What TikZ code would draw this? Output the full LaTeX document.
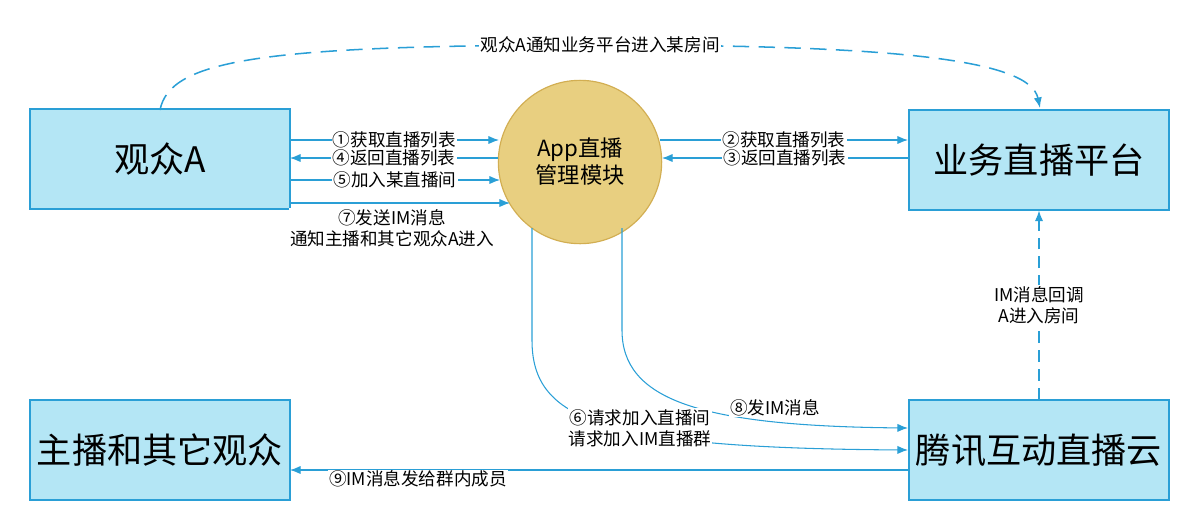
\documentclass[tikz,border=0pt]{standalone}
\usepackage{fontspec}
\setmainfont{Noto Sans CJK SC}
\usetikzlibrary{arrows.meta}
\definecolor{boxfill}{HTML}{B4E6F5}
\definecolor{boxline}{HTML}{2A9FD6}
\definecolor{ballfill}{HTML}{E8CF80}
\definecolor{ballline}{HTML}{D2AE52}
\tikzset{
  box/.style={draw=boxline,fill=boxfill,line width=1pt,minimum width=7.8cm,minimum height=3cm,font=\fontsize{30}{32}\selectfont},
  link/.style={draw=boxline,line width=0.9pt,-{Latex[length=9pt,width=7pt]}},
  lbl/.style={fill=white,inner sep=1pt,font=\fontsize{15}{18}\selectfont,align=center}
}
\begin{document}
\begin{tikzpicture}[x=0.03cm,y=-0.03cm]
\useasboundingbox (0,0) rectangle (1190,520);

\node[box] (viewer) at (160,159) {观众A};
\node[box] (biz) at (1039,160) {业务直播平台};
\node[box] (anchor) at (160,450) {主播和其它观众};
\node[box] (cloud) at (1039,450) {腾讯互动直播云};
\node[circle,draw=ballline,fill=ballfill,line width=1pt,minimum size=4.9cm,align=center,font=\fontsize{19}{23}\selectfont] (app) at (580,162) {App直播\\管理模块};

% viewer <-> app
\draw[link] (290,140) -- (499,140) node[lbl,midway] {①获取直播列表};
\draw[link] (498,158) -- (290,158) node[lbl,midway] {④返回直播列表};
\draw[link] (290,180) -- (500,180) node[lbl,midway] {⑤加入某直播间};
\draw[link] (290,203) -- (510,203);
\node[lbl] at (392,228) {⑦发送IM消息\\通知主播和其它观众A进入};

% app <-> biz
\draw[link] (660,140) -- (908,140) node[lbl,midway] {②获取直播列表};
\draw[link] (908,158) -- (662,158) node[lbl,midway] {③返回直播列表};

% app -> cloud
\draw[link] (532,228) -- (532,340) .. controls (532,420) and (600,448) .. (908,450);
\draw[link] (622,228) -- (622,330) .. controls (622,400) and (700,426) .. (908,428);
\node[lbl] at (775,408) {⑧发IM消息};
\node[lbl] at (640,428) {⑥请求加入直播间\\请求加入IM直播群};

% cloud -> biz
\draw[link,dash pattern=on 10pt off 6pt] (cloud.north) -- (biz.south) node[lbl,midway] {IM消息回调\\A进入房间};

% cloud -> anchor
\draw[link] (908,470) -- (290,470);
\node[lbl] at (418,479) {⑨IM消息发给群内成员};

% viewer -> biz
\draw[link,line width=1.3pt,dash pattern=on 14pt off 8pt] (160,110) .. controls (170,60) and (260,45) .. (600,45) .. controls (900,45) and (1030,60) .. (1040,108);
\node[lbl] at (600,45) {观众A通知业务平台进入某房间};
\end{tikzpicture}
\end{document}
